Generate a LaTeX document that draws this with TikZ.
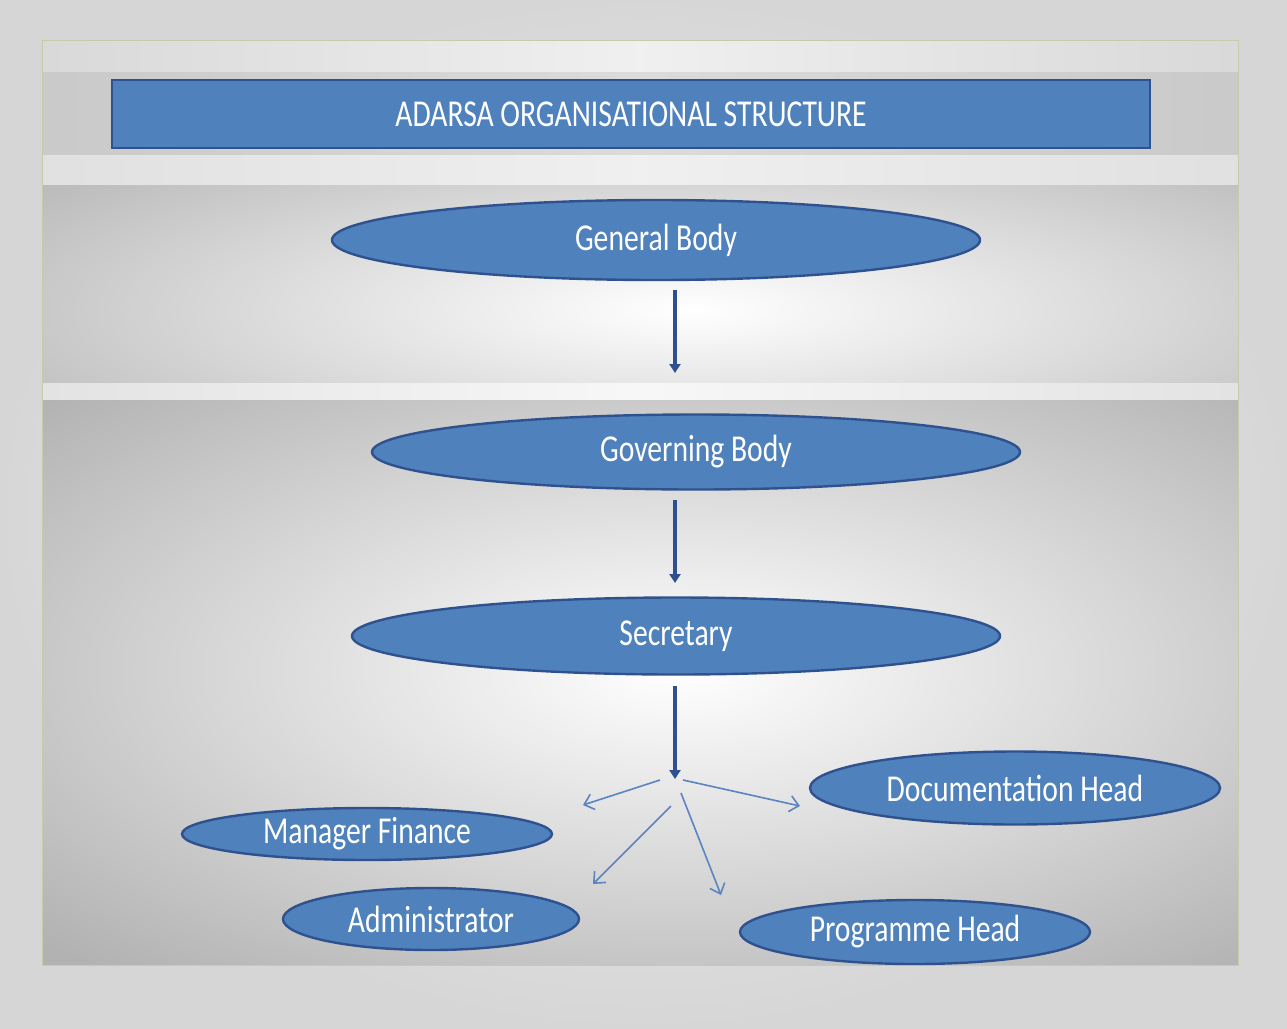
\documentclass[tikz,border=0pt]{standalone}
\usepackage{fontspec}
\setmainfont{Carlito}
\newfontfamily\narrowcal[FakeStretch=0.78]{Carlito}
\usetikzlibrary{shapes.geometric,arrows.meta}
\definecolor{boxblue}{HTML}{4F81BD}
\definecolor{edgeblue}{HTML}{2F528F}
\definecolor{arrowblue}{HTML}{2E5090}
\definecolor{thinblue}{HTML}{5A84C2}
\definecolor{panelline}{HTML}{C9CBA8}
\tikzset{
  orgnode/.style={ellipse, fill=boxblue, draw=edgeblue, line width=2.4pt, inner sep=0pt,
    text=white, font=\narrowcal\fontsize{38}{42}\selectfont},
  mainarrow/.style={draw=arrowblue, line width=3.5pt, -{Triangle[length=9pt,width=11pt]}},
  subarrow/.style={draw=thinblue, line width=1.6pt, -{Straight Barb[length=9pt,width=16pt,line width=1.6pt]}},
}
\begin{document}
\begin{tikzpicture}[x=1pt,y=-1pt]
\useasboundingbox (0,0) rectangle (1287,1028);
% outer background
\shade[inner color=gray!8, outer color=gray!32] (0,0) rectangle (1287,1028);
% panel bands
\shade[left color=gray!30, right color=gray!30, middle color=gray!12] (42,40) rectangle (1238,72);
\shade[left color=gray!42, right color=gray!42, middle color=gray!28] (42,72) rectangle (1238,155);
\shade[left color=gray!24, right color=gray!24, middle color=gray!12] (42,155) rectangle (1238,185);
\begin{scope}
\clip (42,185) rectangle (1238,383);
\shade[inner color=white, outer color=gray!55] (-150,100) rectangle (1530,520);
\end{scope}
\shade[left color=gray!22, right color=gray!22, middle color=gray!6] (42,383) rectangle (1238,400);
\begin{scope}
\clip (42,400) rectangle (1238,965);
\shade[inner color=white, outer color=gray!60] (-200,280) rectangle (1560,1060);
\end{scope}
\draw[panelline, line width=0.8pt] (42,40) rectangle (1238,965);
% title
\node[rectangle, fill=boxblue, draw=edgeblue, line width=1.5pt, minimum width=1038pt, minimum height=68pt,
  text=white, font=\narrowcal\fontsize{38}{42}\selectfont] (title) at (631,114) {ADARSA ORGANISATIONAL STRUCTURE};
% nodes
\node[orgnode, minimum width=648pt, minimum height=80pt] (gen) at (656,240) {General Body};
\node[orgnode, minimum width=648pt, minimum height=75pt] (gov) at (696,452) {Governing Body};
\node[orgnode, minimum width=648pt, minimum height=77pt] (sec) at (676,636) {Secretary};
\node[orgnode, minimum width=410pt, minimum height=73pt] (doc) at (1015,788) {Documentation Head};
\node[orgnode, minimum width=370pt, minimum height=52pt] (fin) at (367,834) {Manager Finance};
\node[orgnode, minimum width=296pt, minimum height=62pt] (adm) at (431,919) {Administrator};
\node[orgnode, minimum width=350pt, minimum height=64pt] (prog) at (915,932) {Programme Head};
% main arrows
\coordinate (g1) at (675,290); \coordinate (g2) at (675,373);
\coordinate (v1) at (675,500); \coordinate (v2) at (675,583);
\coordinate (s1) at (675,686); \coordinate (hub) at (675,779);
\draw[mainarrow] (g1) -- (g2);
\draw[mainarrow] (v1) -- (v2);
\draw[mainarrow] (s1) -- (hub);
% sub arrows
\coordinate (a1s) at (660,780); \coordinate (a1e) at (583,805);
\coordinate (a2s) at (683,780); \coordinate (a2e) at (800,806);
\coordinate (a3s) at (671,806); \coordinate (a3e) at (593,884);
\coordinate (a4s) at (681,793); \coordinate (a4e) at (721,895);
\draw[subarrow] (a1s) -- (a1e);
\draw[subarrow] (a2s) -- (a2e);
\draw[subarrow] (a3s) -- (a3e);
\draw[subarrow] (a4s) -- (a4e);
\end{tikzpicture}
\end{document}
